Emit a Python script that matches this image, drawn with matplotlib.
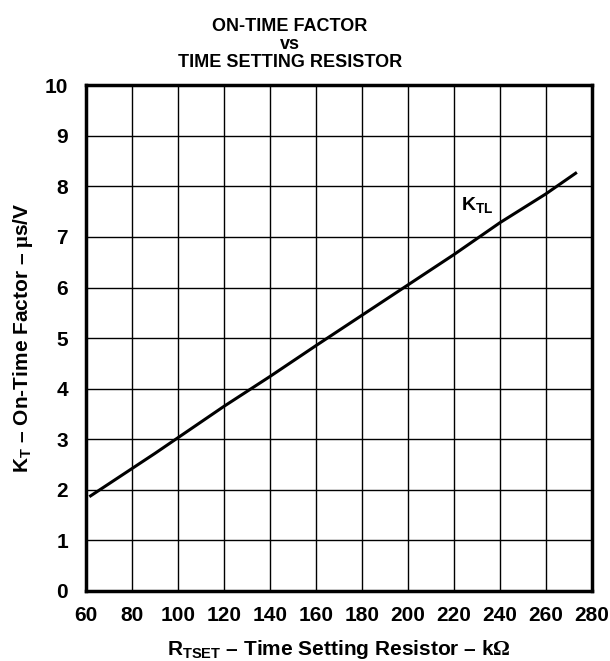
import matplotlib
matplotlib.use('Agg')
import matplotlib.pyplot as plt

plt.rcParams['font.family'] = ['Liberation Sans', 'DejaVu Sans']
plt.rcParams['font.weight'] = 'bold'
plt.rcParams['mathtext.fontset'] = 'custom'
plt.rcParams['mathtext.rm'] = 'Liberation Serif'
plt.rcParams['mathtext.default'] = 'regular'

# 数据
r_tset = [62, 70, 80, 90, 100, 120, 140, 160, 180, 200, 220, 240, 260, 273]
k_tl = [1.88, 2.12, 2.42, 2.72, 3.03, 3.65, 4.24, 4.85, 5.45, 6.05, 6.65, 7.28, 7.85, 8.26]
x_ticks = list(range(60, 281, 20))
y_ticks = list(range(0, 11))

fig = plt.figure(figsize=(6.1, 6.61), dpi=100)
ax = fig.add_axes([0.141, 0.106, 0.829, 0.765])

ax.plot(r_tset, k_tl, color='black', lw=2.2)
ax.text(223, 7.63, r'K$_{TL}$', fontsize=14, fontweight='bold', va='center')

ax.set_xlim(60, 280)
ax.set_ylim(0, 10)
ax.set_xticks(x_ticks)
ax.set_yticks(y_ticks)
ax.tick_params(length=0, labelsize=15)
ax.tick_params(axis='x', pad=11)
ax.tick_params(axis='y', pad=13)
for lab in ax.get_xticklabels() + ax.get_yticklabels():
    lab.set_fontweight('bold')
ax.grid(True, color='black', lw=1.0)
for s in ax.spines.values():
    s.set_linewidth(2.5)

ax.set_xlabel(r'R$_{TSET}$ – Time Setting Resistor – k$\mathrm{\Omega}$',
              fontsize=15, fontweight='bold', labelpad=9)
ax.set_ylabel(r'K$_{T}$ – On-Time Factor – $\mathrm{\mu}$s/V',
              fontsize=15, fontweight='bold', labelpad=7)
ax.set_title('ON-TIME FACTOR\nvs\nTIME SETTING RESISTOR', fontsize=13,
             fontweight='bold', linespacing=1.1, pad=13, x=0.403)

fig.savefig('out.png', dpi=100)
